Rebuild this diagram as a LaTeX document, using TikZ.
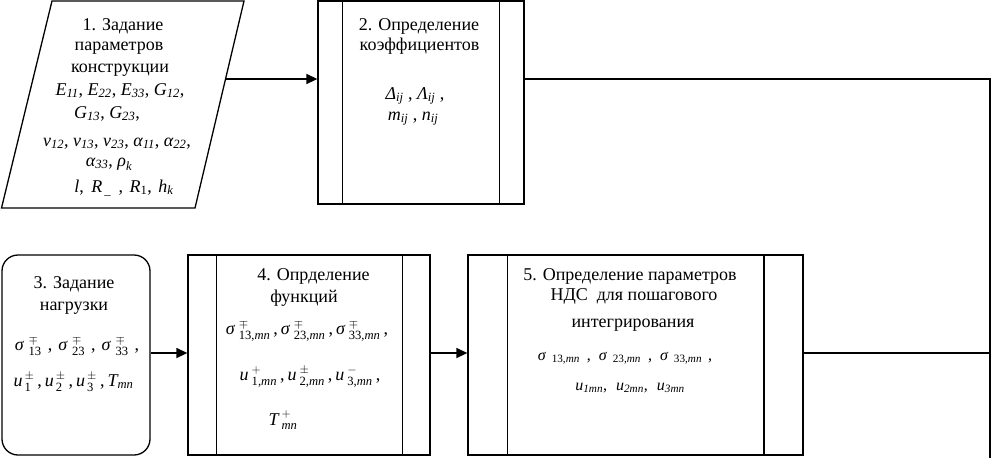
\documentclass[tikz,border=0pt]{standalone}
\usepackage{fontspec}
\usepackage{amsmath}
\setmainfont{Liberation Serif}
\usetikzlibrary{arrows.meta}
\newcommand{\ti}[1]{\text{\itshape #1}}
\newcommand{\hg}[1]{\hspace{#1pt}}
\begin{document}
\begin{tikzpicture}[x=1pt,y=-1pt,
  txt/.style={anchor=base,inner sep=0pt,font=\fontsize{18}{22}\selectfont},
  stxt/.style={anchor=base,inner sep=0pt,font=\fontsize{16}{19}\selectfont},
  box/.style={draw,line width=1.3pt,inner sep=0pt},
  thickbar/.style={line width=1.7pt},
  thinbar/.style={line width=1pt},
  arr/.style={line width=1.4pt,-{Triangle[length=11pt,width=10pt]}},
  con/.style={line width=1.1pt}]
\useasboundingbox (0,0) rectangle (991,458);
% box 1 (parallelogram)
\draw[line width=1.3pt] (52,1) -- (244,1) -- (195,208) -- (1.5,208) -- cycle;
\coordinate (b1out) at (225.6,79);
% box 2
\node[box, minimum width=206pt, minimum height=203pt] (b2) at (421,102.5) {};
\draw[thickbar] ([xshift=25pt]b2.north west) -- ([xshift=25pt]b2.south west);
\draw[thinbar] ([xshift=-25pt]b2.north east) -- ([xshift=-25pt]b2.south east);
% box 3
\node[box, rounded corners=16pt, minimum width=148pt, minimum height=200pt] (b3) at (76,355) {};
% box 4
\node[box, minimum width=242pt, minimum height=200pt] (b4) at (309,355) {};
\draw[thickbar] ([xshift=29pt]b4.north west) -- ([xshift=29pt]b4.south west);
\draw[thinbar] ([xshift=-28pt]b4.north east) -- ([xshift=-28pt]b4.south east);
% box 5
\node[box, minimum width=335pt, minimum height=200pt] (b5) at (635.5,355) {};
\draw[thickbar] ([xshift=40pt]b5.north west) -- ([xshift=40pt]b5.south west);
\draw[thickbar] ([xshift=-40pt]b5.north east) -- ([xshift=-40pt]b5.south east);
% connectors
\coordinate (ya) at (0,353);
\coordinate (rt) at (990,79);
\coordinate (rb) at (990,458);
\draw[arr] (b1out) -- (b1out -| b2.west);
\draw[arr] (b3.east |- ya) -- (b4.west |- ya);
\draw[arr] (b4.east |- ya) -- (b5.west |- ya);
\draw[con] (b2.east |- rt) -- (rt) -- (rb);
\draw[con,line width=1.5pt] (b5.east |- ya) -- (ya -| rt);
% texts box 1
\node[txt] (t1a) at (123,30) {1. Задание};
\node[txt] (t1b) at (119,50) {параметров};
\node[txt] (t1c) at (120,72) {конструкции};
\node[txt] (t1d) at (120,95) {$\ti{E}_{\ti{11}}$, $\ti{E}_{\ti{22}}$, $\ti{E}_{\ti{33}}$, $\ti{G}_{\ti{12}}$,};
\node[txt] (t1e) at (107,118) {$\ti{G}_{\ti{13}}$, $\ti{G}_{\ti{23}}$,};
\node[txt] (t1f) at (117,146) {$\ti{ν}_{\ti{12}}$, $\ti{ν}_{\ti{13}}$, $\ti{ν}_{\ti{23}}$, $\ti{α}_{\ti{11}}$, $\ti{α}_{\ti{22}}$,};
\node[txt] (t1g) at (109,166) {$\ti{α}_{\ti{33}}$, $\ti{ρ}_{\ti{k}}$};
\node[txt] (t1h) at (124,192) {$\ti{l}$,\hg{3} $\ti{R}_{\hg{2}\text{\_}}$\hg{3} ,\hg{2} $\ti{R}_{\text{1}}$,\hg{2} $\ti{h}_{\ti{k}}$};
% texts box 2
\node[txt] (t2a) at (419,30) {2. Определение};
\node[txt] (t2b) at (419.5,50) {коэффициентов};
\node[txt] (t2c) at (415,99) {$\ti{Δ}_{\ti{ij}}$ , $\ti{Λ}_{\ti{ij}}$ ,};
\node[txt] (t2d) at (413,120) {$\ti{m}_{\ti{ij}}$ , $\ti{n}_{\ti{ij}}$};
% texts box 3
\node[txt] (t3a) at (74,288) {3. Задание};
\node[txt] (t3b) at (74,310) {нагрузки};
\node[txt] (t3c) at (77,350) {$\ti{σ}^{\hg{5}\mp}_{\hg{5}\text{13}}$\hg{6},\hg{6}$\ti{σ}^{\hg{5}\mp}_{\hg{5}\text{23}}$\hg{6},\hg{6}$\ti{σ}^{\hg{5}\mp}_{\hg{5}\text{33}}$\hg{6},};
\node[txt] (t3d) at (73.5,386) {$\ti{u}^{\hg{2}\pm}_{\hg{2}\text{1}}$\hg{3},\hg{3}$\ti{u}^{\hg{2}\pm}_{\hg{2}\text{2}}$\hg{3},\hg{3}$\ti{u}^{\hg{2}\pm}_{\hg{2}\text{3}}$\hg{3},\hg{3}$\ti{T}_{\ti{mn}}$};
% texts box 4
\node[txt] (t4a) at (313.5,280) {4. Опрделение};
\node[txt] (t4b) at (304,302) {функций};
\node[txt] (t4c) at (307,334) {$\ti{σ}^{\hg{4}\mp}_{\hg{4}\text{13,}\ti{mn}}$\hg{3},\hg{3}$\ti{σ}^{\hg{4}\mp}_{\hg{4}\text{23,}\ti{mn}}$\hg{3},\hg{3}$\ti{σ}^{\hg{4}\mp}_{\hg{4}\text{33,}\ti{mn}}$\hg{3},};
\node[txt] (t4d) at (310,380) {$\ti{u}^{\hg{3}+}_{\hg{3}\text{1,}\ti{mn}}$\hg{3},\hg{3}$\ti{u}^{\hg{3}\pm}_{\hg{3}\text{2,}\ti{mn}}$\hg{3},\hg{3}$\ti{u}^{\hg{3}-}_{\hg{3}\text{3,}\ti{mn}}$\hg{3},};
\node[txt] (t4e) at (283,425) {$\ti{T}^{\hg{3}+}_{\hg{3}\ti{mn}}$};
% texts box 5
\node[txt] (t5a) at (630,280) {5. Определение\ параметров};
\node[txt] (t5b) at (634,300) {НДС\ \ для пошагового};
\node[txt] (t5c) at (633,327) {интегрирования};
\node[stxt] (t5d) at (625,360) {$\ti{σ}_{\hg{6}\text{13,}\ti{mn}}$\hg{7},\hg{8}$\ti{σ}_{\hg{6}\text{23,}\ti{mn}}$\hg{7},\hg{8}$\ti{σ}_{\hg{6}\text{33,}\ti{mn}}$\hg{6},};
\node[stxt] (t5e) at (630,390) {$\ti{u}_{\ti{1mn}}$,\hg{9}$\ti{u}_{\ti{2mn}}$,\hg{9}$\ti{u}_{\ti{3mn}}$};
\end{tikzpicture}
\end{document}
